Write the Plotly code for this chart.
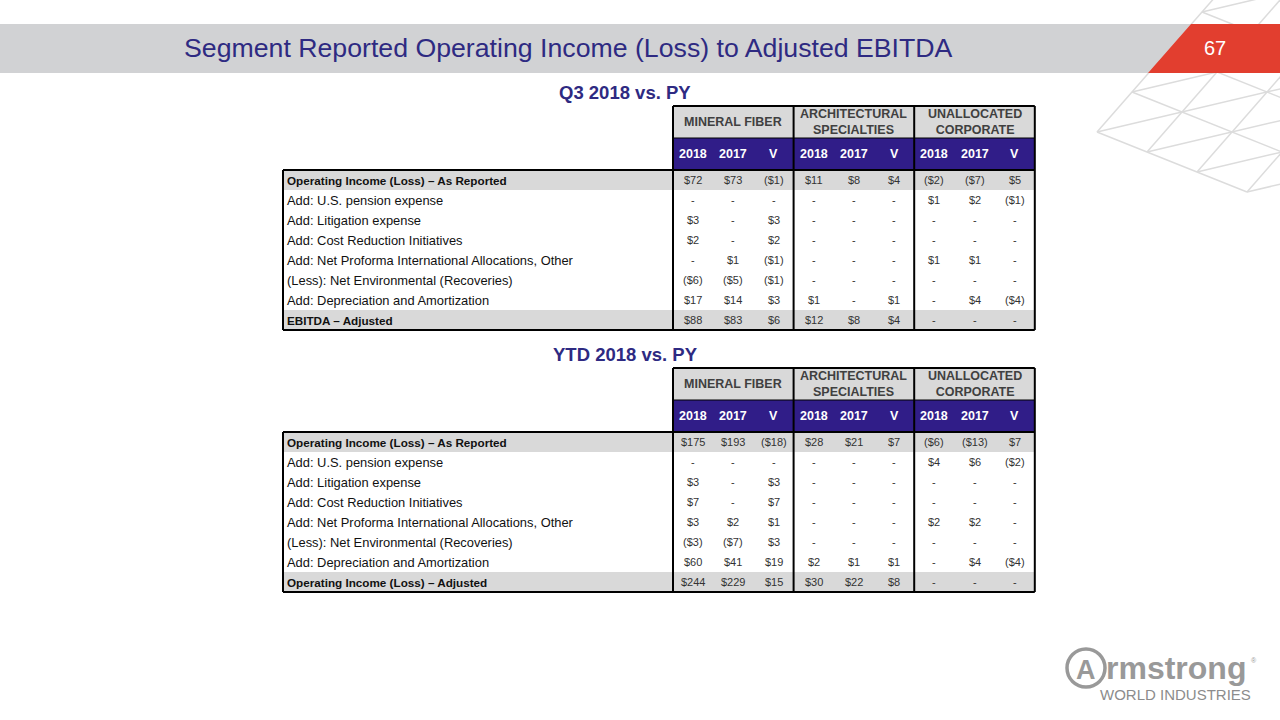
import plotly.graph_objects as go

# ---- data -------------------------------------------------------------
title_text = "Segment Reported Operating Income (Loss) to Adjusted EBITDA"
page_number = "67"
subtitles = ["Q3 2018 vs. PY", "YTD 2018 vs. PY"]

segments = ["MINERAL FIBER", "ARCHITECTURAL<br>SPECIALTIES", "UNALLOCATED<br>CORPORATE"]
years = ["2018", "2017", "V"]

q3_labels = [
    "Operating Income (Loss) – As Reported",
    "Add: U.S. pension expense",
    "Add: Litigation expense",
    "Add: Cost Reduction Initiatives",
    "Add: Net Proforma International Allocations, Other",
    "(Less): Net Environmental (Recoveries)",
    "Add: Depreciation and Amortization",
    "EBITDA – Adjusted",
]
ytd_labels = q3_labels[:-1] + ["Operating Income (Loss) – Adjusted"]

q3_mineral_fiber = [
    ["$72", "$73", "($1)"], ["-", "-", "-"], ["$3", "-", "$3"], ["$2", "-", "$2"],
    ["-", "$1", "($1)"], ["($6)", "($5)", "($1)"], ["$17", "$14", "$3"], ["$88", "$83", "$6"],
]
q3_architectural = [
    ["$11", "$8", "$4"], ["-", "-", "-"], ["-", "-", "-"], ["-", "-", "-"],
    ["-", "-", "-"], ["-", "-", "-"], ["$1", "-", "$1"], ["$12", "$8", "$4"],
]
q3_unallocated = [
    ["($2)", "($7)", "$5"], ["$1", "$2", "($1)"], ["-", "-", "-"], ["-", "-", "-"],
    ["$1", "$1", "-"], ["-", "-", "-"], ["-", "$4", "($4)"], ["-", "-", "-"],
]

ytd_mineral_fiber = [
    ["$175", "$193", "($18)"], ["-", "-", "-"], ["$3", "-", "$3"], ["$7", "-", "$7"],
    ["$3", "$2", "$1"], ["($3)", "($7)", "$3"], ["$60", "$41", "$19"], ["$244", "$229", "$15"],
]
ytd_architectural = [
    ["$28", "$21", "$7"], ["-", "-", "-"], ["-", "-", "-"], ["-", "-", "-"],
    ["-", "-", "-"], ["-", "-", "-"], ["$2", "$1", "$1"], ["$30", "$22", "$8"],
]
ytd_unallocated = [
    ["($6)", "($13)", "$7"], ["$4", "$6", "($2)"], ["-", "-", "-"], ["-", "-", "-"],
    ["$2", "$2", "-"], ["-", "-", "-"], ["-", "$4", "($4)"], ["-", "-", "-"],
]

# ---- style ------------------------------------------------------------
FONT = "Arial, Liberation Sans, sans-serif"
NAVY = "#2e2a82"
PURPLE = "#301d88"
ROW_GRAY = "#d9d9d9"
BAND_GRAY = "#d1d2d4"
RED = "#e23e2f"
LOGO_GRAY = "#999999"

LEFT, GROUP_LEFT, COL_W = 283, 673, 40.2
RIGHT = GROUP_LEFT + 9 * COL_W
ROW_H = 20

fig = go.Figure()
shapes = []
annotations = []


def text(x, y, s, size, color="#222222", bold=False, anchor="center"):
    if bold:
        s = "<b>" + s + "</b>"
    annotations.append(dict(
        x=x, y=y, xref="x", yref="y", text=s, showarrow=False,
        xanchor=anchor, yanchor="middle", font=dict(family=FONT, size=size, color=color),
    ))


def line(x0, y0, x1, y1, color="black", width=2):
    shapes.append(dict(type="line", xref="x", yref="y", x0=x0, y0=y0, x1=x1, y1=y1,
                       line=dict(color=color, width=width)))


def rect(x0, y0, x1, y1, fill):
    shapes.append(dict(type="rect", xref="x", yref="y", x0=x0, y0=y0, x1=x1, y1=y1,
                       fillcolor=fill, line=dict(width=0)))


# ---- background lattice (top right) -----------------------------------
ox, oy = 1097, 132
a, b = (85, -20), (50, 20)


def node(i, j):
    return ox + a[0] * i + b[0] * j, oy + a[1] * i + b[1] * j


for j in range(-4, 4):
    p, q = node(max(0, -j), j), node(6, j)
    line(p[0], p[1], q[0], q[1], color="#dcdcdc", width=1.5)
for i in range(0, 5):
    p, q = node(i, -i), node(i, 3)
    line(p[0], p[1], q[0], q[1], color="#dcdcdc", width=1.5)
for k in range(0, 8):
    i0 = max(0, k - 3)
    p, q = node(i0, k - i0), node(i0 + 6, k - i0 - 6)
    line(p[0], p[1], q[0], q[1], color="#dcdcdc", width=1.5)

# ---- title band -------------------------------------------------------
shapes.append(dict(type="path", xref="x", yref="y", path="M 0,24 L 1191,24 L 1148,73 L 0,73 Z",
                   fillcolor=BAND_GRAY, line=dict(width=0)))
shapes.append(dict(type="path", xref="x", yref="y", path="M 1191,24 L 1280,24 L 1280,73 L 1148,73 Z",
                   fillcolor=RED, line=dict(width=0)))
text(182, 48, title_text, 26.7, color=NAVY, anchor="left")
text(1215, 48, page_number, 20, color="white")


# ---- tables -----------------------------------------------------------
def add_table(top, subtitle, labels, groups):
    text(625, top - 14, subtitle, 18.5, color=NAVY, bold=True)
    mid = top + 32
    body = top + 64
    bottom = body + ROW_H * len(labels)

    rect(GROUP_LEFT, top, RIGHT, mid, ROW_GRAY)
    rect(GROUP_LEFT, mid, RIGHT, body, PURPLE)
    for r in (0, len(labels) - 1):
        rect(LEFT, body + r * ROW_H, RIGHT, body + (r + 1) * ROW_H, ROW_GRAY)

    line(GROUP_LEFT, top, RIGHT, top)
    line(GROUP_LEFT, mid, RIGHT, mid, width=1)
    line(LEFT, body, RIGHT, body)
    line(LEFT, bottom, RIGHT, bottom)
    line(LEFT, body, LEFT, bottom)
    for g in range(4):
        gx = GROUP_LEFT + g * 3 * COL_W
        line(gx, top, gx, bottom)

    for g, (seg, values) in enumerate(zip(segments, groups)):
        gx = GROUP_LEFT + g * 3 * COL_W
        text(gx + 1.5 * COL_W, (top + mid) / 2, seg, 12.5, color="#404040", bold=True)
        for c, yr in enumerate(years):
            cx = gx + (c + 0.5) * COL_W
            text(cx, (mid + body) / 2, yr, 12.5, color="white", bold=True)
            for r, row in enumerate(values):
                text(cx, body + (r + 0.5) * ROW_H, row[c], 11, color="#333333")

    for r, lab in enumerate(labels):
        bold = r in (0, len(labels) - 1)
        text(LEFT + 2, body + (r + 0.5) * ROW_H, lab, 11.7 if bold else 12.9,
             color="#111111", bold=bold, anchor="left")


add_table(106, subtitles[0], q3_labels, [q3_mineral_fiber, q3_architectural, q3_unallocated])
add_table(368, subtitles[1], ytd_labels, [ytd_mineral_fiber, ytd_architectural, ytd_unallocated])

# ---- logo -------------------------------------------------------------
shapes.append(dict(type="circle", xref="x", yref="y", x0=1067, y0=649, x1=1105, y1=687,
                   line=dict(color=LOGO_GRAY, width=3.5)))
text(1086, 670, "A", 27, color=LOGO_GRAY, bold=True)
text(1104, 668, "rmstrong", 32, color=LOGO_GRAY, bold=True, anchor="left")
text(1254, 660, "®", 7, color=LOGO_GRAY)
text(1175, 694, "WORLD INDUSTRIES", 15, color="#8c8c8c")

fig.update_layout(
    width=1280,
    height=720,
    margin=dict(l=0, r=0, t=0, b=0),
    paper_bgcolor="white",
    plot_bgcolor="white",
    showlegend=False,
    xaxis=dict(range=[0, 1280], visible=False, fixedrange=True),
    yaxis=dict(range=[720, 0], visible=False, fixedrange=True),
    shapes=shapes,
    annotations=annotations,
)

fig.write_html(
    "out.html",
    config={"displayModeBar": False},
    post_script="document.body.style.margin='0';document.body.style.overflow='hidden';",
)
